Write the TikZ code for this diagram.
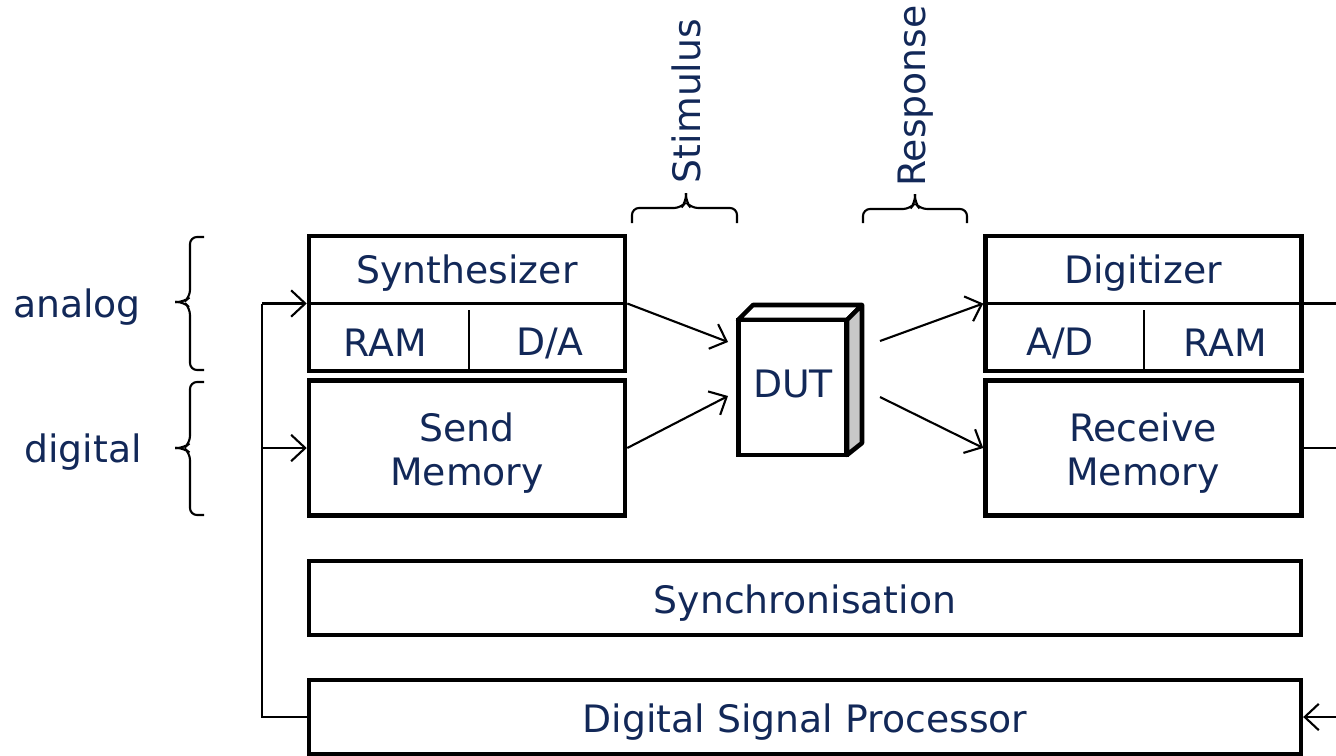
\documentclass[tikz,border=0pt]{standalone}
\usepackage{fontspec}
\setmainfont{DejaVu Sans}
\usetikzlibrary{arrows.meta}

\definecolor{navy}{RGB}{18,40,88}
\definecolor{sidegray}{RGB}{200,200,200}

\tikzset{
  blk/.style={draw,line width=2.6pt,minimum width=6.32cm,minimum height=2.7cm,inner sep=0pt},
  wide/.style={draw,line width=2.6pt,minimum width=19.84cm,minimum height=1.48cm,inner sep=0pt},
  conn/.style={line width=1.2pt},
  arr/.style={line width=1.2pt,-{Straight Barb[length=8pt,width=15pt,line width=1.2pt]}},
  brc/.style={line width=1.2pt,rounded corners=4pt},
  lbl/.style={text=navy,inner sep=0pt}
}

\begin{document}
\begin{tikzpicture}[x=0.02cm,y=-0.02cm,font=\fontsize{21.5}{25}\selectfont]
    \useasboundingbox (0,0) rectangle (1336,755);

    % Sender side
    \node[blk] (synth) at (467,303.5) {};
    \node[lbl] (synthlbl) at (467,273) {Synthesizer};
    \node[lbl] (sram) at (385,343) {RAM};
    \node[lbl] (sda) at (550,343) {D/A};
    \draw[conn] (synth.west) -- (synth.east);
    \draw[conn] (469,310) -- (469,371);
    \node[blk] (send) at (467,448) {};
    \node[lbl,align=center] (sendlbl) at (467,453) {Send\\Memory};

    % Receiver side
    \node[blk] (digit) at (1143.5,303.5) {};
    \node[lbl] (digitlbl) at (1143,273) {Digitizer};
    \node[lbl] (rad) at (1060,343) {A/D};
    \node[lbl] (rram) at (1225,343) {RAM};
    \draw[conn] (digit.west) -- (digit.east);
    \draw[conn] (1144,310) -- (1144,371);
    \node[blk] (recv) at (1143.5,448) {};
    \node[lbl,align=center] (recvlbl) at (1143,453) {Receive\\Memory};

    % Common blocks
    \node[wide] (sync) at (805,598) {};
    \node[lbl] (synclbl) at (805,603) {Synchronisation};
    \node[wide] (dsp) at (805,717) {};
    \node[lbl] (dsplbl) at (805,722) {Digital Signal Processor};

    % DUT
    \fill[white,draw=black,line width=2.6pt,line join=round] (738,320) -- (753,305) -- (862,305) -- (847,320) -- cycle;
    \fill[sidegray,draw=black,line width=2.6pt,line join=round] (847,320) -- (862,305) -- (862,443) -- (847,455) -- cycle;
    \node[draw,fill=white,line width=2.6pt,minimum width=2.16cm,minimum height=2.7cm,inner sep=0pt] (dut) at (792.5,387.5) {};
    \node[lbl] (dutlbl) at (793,384) {DUT};

    % Connection points
    \coordinate (dutin1) at (728,342);
    \coordinate (dutin2) at (728,396);
    \coordinate (dutout1) at (880,341);
    \coordinate (dutout2) at (880,397);
    \coordinate (fb) at (262,717);
    \coordinate (rout1) at (1336,303.5);
    \coordinate (rout2) at (1336,448);
    \coordinate (rin) at (1336,717);

    % Signal flow
    \draw[arr] (synth.east) -- (dutin1);
    \draw[arr] (send.east) -- (dutin2);
    \draw[arr] (dutout1) -- (digit.west);
    \draw[arr] (dutout2) -- (recv.west);
    \draw[conn] (digit.east) -- (rout1);
    \draw[conn] (recv.east) -- (rout2);
    \draw[arr] (rin) -- (dsp.east);

    % Feedback from DSP
    \draw[conn] (dsp.west) -- (fb) -- (fb |- synth.west);
    \draw[arr] (fb |- synth.west) -- (synth.west);
    \draw[arr] (fb |- send.west) -- (send.west);

    % Braces
    \draw[brc] (204,237) -- (190,237) -- (190,297) -- (184,302) -- (175,302);
    \draw[brc] (175,302) -- (184,302) -- (190,308) -- (190,370) -- (204,370);
    \draw[brc] (204,382) -- (190,382) -- (190,443) -- (184,448) -- (175,448);
    \draw[brc] (175,448) -- (184,448) -- (190,453) -- (190,515) -- (204,515);
    \draw[brc] (632,223) -- (632,208) -- (681,208) -- (686,202) -- (686,193);
    \draw[brc] (686,193) -- (686,202) -- (691,208) -- (737,208) -- (737,223);
    \draw[brc] (863,223) -- (863,209) -- (910,209) -- (915,203) -- (915,194);
    \draw[brc] (915,194) -- (915,203) -- (920,209) -- (967,209) -- (967,223);

    % Labels
    \node[lbl] (analog) at (77,307) {analog};
    \node[lbl] (digital) at (83,452) {digital};
    \node[lbl,rotate=90] (stim) at (686,101) {Stimulus};
    \node[lbl,rotate=90] (resp) at (916,96) {Response};
\end{tikzpicture}
\end{document}
